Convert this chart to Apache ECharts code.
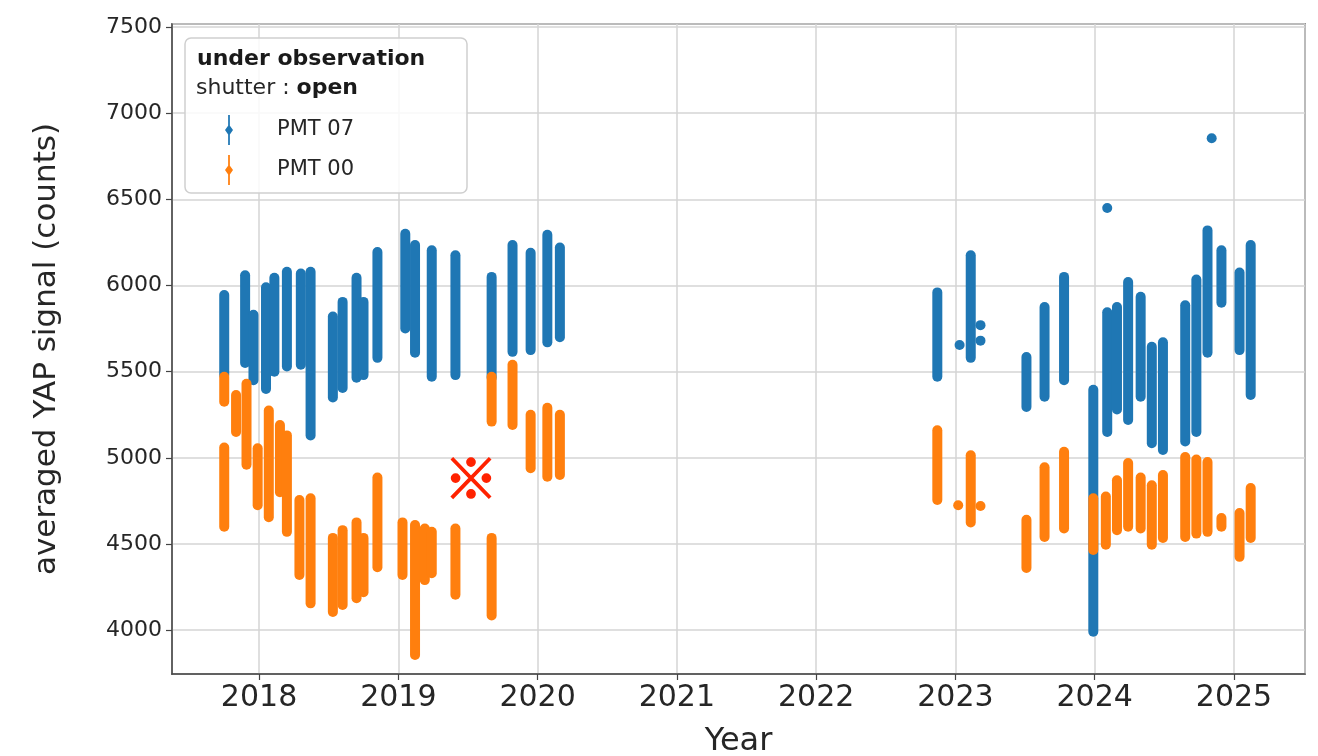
<!DOCTYPE html>
<html>
<head>
<meta charset="utf-8">
<script src="https://cdn.jsdelivr.net/npm/echarts@6.0.0/dist/echarts.min.js"></script>
<style>html,body{margin:0;padding:0;background:#fff}#chart{width:1318px;height:756px}</style>
</head>
<body>
<div id="chart"></div>
<script>
// Each entry: [year, lowest value, highest value] of an observation cluster
const pmt07 = [
  [2017.75, 5480, 5945], [2017.90, 5550, 6060], [2017.96, 5450, 5830], [2018.05, 5400, 5990],
  [2018.11, 5500, 6045], [2018.20, 5530, 6080], [2018.30, 5540, 6070], [2018.37, 5130, 6080],
  [2018.53, 5350, 5820], [2018.60, 5405, 5905], [2018.70, 5465, 6045], [2018.75, 5480, 5905],
  [2018.85, 5580, 6195], [2019.05, 5750, 6300], [2019.12, 5610, 6235], [2019.24, 5470, 6205],
  [2019.41, 5480, 6175], [2019.67, 5465, 6050], [2019.82, 5615, 6235], [2019.95, 5625, 6190],
  [2020.07, 5670, 6295], [2020.16, 5700, 6220],
  [2022.87, 5470, 5960], [2023.11, 5580, 6175], [2023.03, 5655, 5655], [2023.18, 5770, 5770],
  [2023.18, 5680, 5680], [2023.51, 5295, 5585], [2023.64, 5355, 5875], [2023.78, 5450, 6050],
  [2023.99, 3990, 5395], [2024.09, 6450, 6450], [2024.09, 5150, 5845], [2024.16, 5280, 5875],
  [2024.24, 5220, 6020], [2024.33, 5355, 5935], [2024.41, 5085, 5645], [2024.49, 5045, 5670],
  [2024.65, 5095, 5885], [2024.73, 5150, 6035], [2024.81, 5610, 6320], [2024.84, 6855, 6855],
  [2024.91, 5900, 6205], [2025.04, 5625, 6075], [2025.12, 5365, 6235]
];
const pmt00 = [
  [2017.75, 5325, 5470], [2017.75, 4600, 5060], [2017.835, 5150, 5365], [2017.91, 4960, 5430],
  [2017.99, 4725, 5055], [2018.07, 4655, 5275], [2018.15, 4800, 5190], [2018.20, 4570, 5130],
  [2018.29, 4320, 4755], [2018.37, 4155, 4765], [2018.53, 4105, 4535], [2018.60, 4145, 4580],
  [2018.70, 4185, 4625], [2018.75, 4220, 4535], [2018.85, 4365, 4885], [2019.03, 4320, 4625],
  [2019.12, 3855, 4610], [2019.19, 4290, 4590], [2019.24, 4330, 4570], [2019.41, 4205, 4590],
  [2019.67, 4085, 4535], [2019.67, 5210, 5470], [2019.82, 5190, 5540], [2019.95, 4940, 5250],
  [2020.07, 4890, 5290], [2020.16, 4900, 5250],
  [2022.87, 4755, 5160], [2023.11, 4625, 5015], [2023.02, 4725, 4725], [2023.18, 4720, 4720],
  [2023.51, 4360, 4640], [2023.64, 4540, 4945], [2023.78, 4590, 5035],
  [2023.99, 4465, 4765], [2024.08, 4495, 4775], [2024.16, 4580, 4870], [2024.24, 4600, 4970],
  [2024.33, 4590, 4885], [2024.41, 4495, 4840], [2024.49, 4535, 4900], [2024.65, 4540, 5005],
  [2024.73, 4560, 4990], [2024.81, 4570, 4975], [2024.91, 4600, 4650], [2025.04, 4425, 4680],
  [2025.12, 4535, 4825]
];
const seriesNames = ['PMT 07', 'PMT 00'];
const xRange = [2017.375, 2025.51];
const yRange = [3745, 7518];
const xTitle = 'Year';
const yTitle = 'averaged YAP signal (counts)';
const legendTitle = 'under observation';
const legendSub = ['shutter : ', 'open'];
const mark = '※';

const COLORS = ['#1f77b4', '#ff7f0e'];
const FONT = 'DejaVu Sans';

function renderCluster(params, api) {
  const x = api.value(0), lo = api.value(1), hi = api.value(2);
  const pTop = api.coord([x, hi]);
  const pBot = api.coord([x, lo]);
  const w = 10;
  const h = Math.max(pBot[1] - pTop[1], 0);
  return {
    type: 'rect',
    shape: { x: pTop[0] - w / 2, y: pTop[1] - w / 2, width: w, height: h + w, r: w / 2 },
    style: { fill: api.visual('color') }
  };
}

const chart = echarts.init(document.getElementById('chart'), null, { renderer: 'canvas' });
const errIcon = 'path://M4.3,0h1.4v9h-1.4z M5,7.5 L8.2,12 L5,16.5 L1.8,12z M4.3,15h1.4v9h-1.4z';

chart.setOption({
  animation: false,
  backgroundColor: '#fff',
  textStyle: { fontFamily: FONT },
  grid: { left: 172, right: 13, top: 24, bottom: 82, outerBoundsMode: 'none', containLabel: false,
    show: true, borderColor: '#444', borderWidth: 1.5, backgroundColor: 'transparent' },
  xAxis: {
    type: 'value', min: xRange[0], max: xRange[1], minInterval: 1, maxInterval: 1,
    name: xTitle, nameLocation: 'middle', nameGap: 52,
    nameTextStyle: { fontSize: 32, color: '#262626', fontFamily: FONT },
    axisLine: { show: true, onZero: false, lineStyle: { color: '#444', width: 1.5 } },
    axisTick: { show: true, length: 6, lineStyle: { color: '#444', width: 1.2 } },
    axisLabel: { showMinLabel: false, showMaxLabel: false, interval: 0, fontSize: 30, color: '#262626', margin: 9, fontFamily: FONT,
      formatter: v => (Math.abs(v - Math.round(v)) < 1e-6 ? String(Math.round(v)) : '') },
    splitLine: { show: true, lineStyle: { color: '#d4d4d4', width: 1.5 } }
  },
  yAxis: {
    type: 'value', min: yRange[0], max: yRange[1], minInterval: 500, maxInterval: 500,
    name: yTitle, nameLocation: 'middle', nameGap: 110, nameRotate: 90,
    nameTextStyle: { fontSize: 31, color: '#262626', fontFamily: FONT },
    axisLine: { show: true, onZero: false, lineStyle: { color: '#444', width: 1.5 } },
    axisTick: { show: true, length: 6, lineStyle: { color: '#444', width: 1.2 } },
    axisLabel: { showMinLabel: false, showMaxLabel: false, interval: 0, fontSize: 22, color: '#262626', margin: 10, fontFamily: FONT,
      formatter: v => (Math.abs(v % 500) < 1e-6 ? String(v) : '') },
    splitLine: { show: true, lineStyle: { color: '#d4d4d4', width: 1.5 } }
  },
  legend: {
    orient: 'vertical', left: 225, top: 115, itemWidth: 86, itemHeight: 30, itemGap: 10,
    symbolKeepAspect: true, padding: 0, z: 20,
    textStyle: { fontSize: 21, color: '#262626', fontFamily: FONT },
    data: [{ name: seriesNames[0], icon: errIcon }, { name: seriesNames[1], icon: errIcon }]
  },
  graphic: [
    { type: 'rect', z: 5, shape: { x: 185, y: 38, width: 282, height: 155, r: 6 },
      style: { fill: 'rgba(255,255,255,0.85)', stroke: '#cfcfcf', lineWidth: 1.5 } },
    { type: 'text', z: 6, left: 197, top: 48,
      style: { text: legendTitle, fontSize: 22, fontWeight: 'bold', fill: '#1a1a1a', fontFamily: FONT } },
    { type: 'text', z: 6, left: 196, top: 77,
      style: { text: '{n|' + legendSub[0] + '}{b|' + legendSub[1] + '}', fontFamily: FONT,
        rich: { n: { fontSize: 22, fill: '#262626', fontFamily: FONT }, b: { fontSize: 22, fontWeight: 'bold', fill: '#1a1a1a', fontFamily: FONT } } } },
    { type: 'text', z: 6, x: 471, y: 478,
      style: { text: mark, fontSize: 54, fontWeight: 'bold', fill: '#ff2200', stroke: '#ff2200', lineWidth: 1.6,
        align: 'center', verticalAlign: 'middle', fontFamily: 'Noto Sans CJK JP' } }
  ],
  series: [
    { name: seriesNames[0], type: 'custom', color: COLORS[0], itemStyle: { color: COLORS[0] },
      renderItem: renderCluster, encode: { x: 0, y: [1, 2] }, data: pmt07, z: 2 },
    { name: seriesNames[1], type: 'custom', color: COLORS[1], itemStyle: { color: COLORS[1] },
      renderItem: renderCluster, encode: { x: 0, y: [1, 2] }, data: pmt00, z: 3 }
  ]
});
</script>
</body>
</html>
